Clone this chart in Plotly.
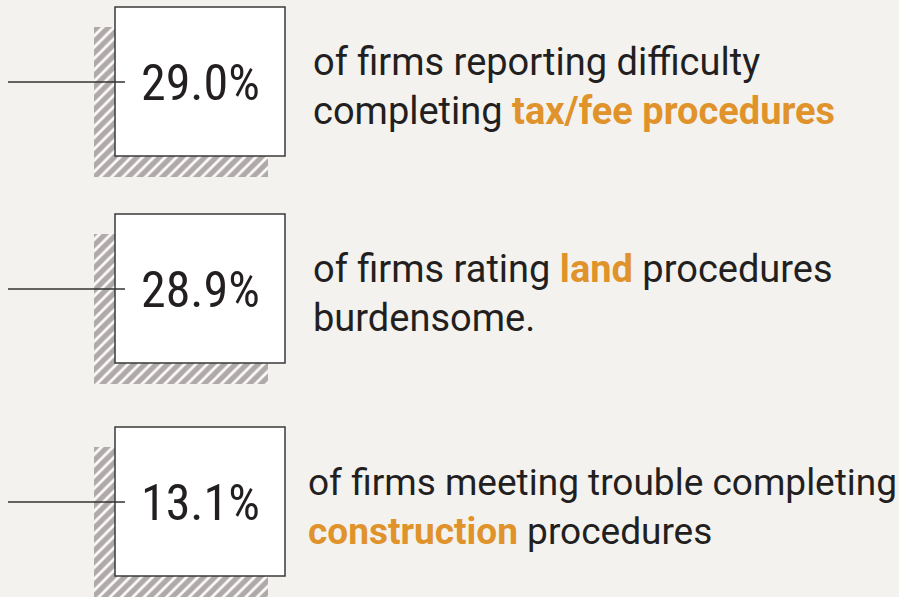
import plotly.graph_objects as go

# ---- data ----
percents = [29.0, 28.9, 13.1]
line1_text = [
    "of firms reporting difficulty",
    "of firms rating <b><span style='color:#E0922B'>land</span></b> procedures",
    "of firms meeting trouble completing",
]
line2_text = [
    "completing <b><span style='color:#E0922B'>tax/fee procedures</span></b>",
    "burdensome.",
    "<b><span style='color:#E0922B'>construction</span></b> procedures",
]

# ---- layout constants ----
W, H = 899, 597
box_left, box_right = 115, 285
box_tops = [7, 214, 427]
box_h = 149
shadow_dx, shadow_dy = -21, 20
text_x = [311, 311, 306]
text_size = [38, 38, 37]
NUM_FONT = "Liberation Sans Narrow, Arial Narrow, Roboto Condensed, sans-serif"
TXT_FONT = "Roboto, Liberation Sans, sans-serif"
DARK = "#231F20"
BG = "#F3F2EF"

fig = go.Figure()

# hatched shadows behind the boxes
sx0 = box_left + shadow_dx
sx1 = box_right + shadow_dx + 4
fig.add_trace(go.Bar(
    x=[(sx0 + sx1) / 2] * 3,
    width=[sx1 - sx0] * 3,
    base=[t + shadow_dy for t in box_tops],
    y=[box_h + 1] * 3,
    marker=dict(color="white", line=dict(width=0),
                pattern=dict(shape="/", fgcolor="#64585B", bgcolor="#FBFAF9",
                             size=8, solidity=0.65)),
    hoverinfo="skip", showlegend=False,
))

shapes = []
annotations = []
for i, top in enumerate(box_tops):
    shapes.append(dict(type="rect", xref="x", yref="y", x0=box_left, x1=box_right,
                       y0=top, y1=top + box_h, fillcolor="white",
                       line=dict(color="#3A3A3A", width=1.5), layer="above"))
    ly = top + 75
    shapes.append(dict(type="line", xref="x", yref="y", x0=8, x1=125, y0=ly, y1=ly,
                       line=dict(color="#333333", width=1.3), layer="above"))
    annotations.append(dict(x=(box_left + box_right) / 2, y=top + 76, xref="x", yref="y",
                            text=f"{percents[i]:.1f}%", showarrow=False,
                            font=dict(family=NUM_FONT, size=50, color=DARK),
                            xanchor="center", yanchor="middle"))
    annotations.append(dict(x=text_x[i], y=top + 55, xref="x", yref="y",
                            text=line1_text[i], showarrow=False,
                            font=dict(family=TXT_FONT, size=text_size[i], color=DARK),
                            xanchor="left", yanchor="middle"))
    annotations.append(dict(x=text_x[i], y=top + 104, xref="x", yref="y",
                            text=line2_text[i], showarrow=False,
                            font=dict(family=TXT_FONT, size=text_size[i], color=DARK),
                            xanchor="left", yanchor="middle"))

fig.update_layout(
    width=W, height=H, autosize=False,
    margin=dict(l=0, r=0, t=0, b=0),
    paper_bgcolor=BG, plot_bgcolor=BG,
    xaxis=dict(range=[0, W], visible=False, fixedrange=True),
    yaxis=dict(range=[H, 0], visible=False, fixedrange=True),
    shapes=shapes, annotations=annotations,
    bargap=0,
)
fig.write_html(
    "out.html",
    config={"displayModeBar": False},
    post_script="document.body.style.margin='0';document.body.style.overflow='hidden';"
                "document.body.style.background='" + BG + "';",
)
